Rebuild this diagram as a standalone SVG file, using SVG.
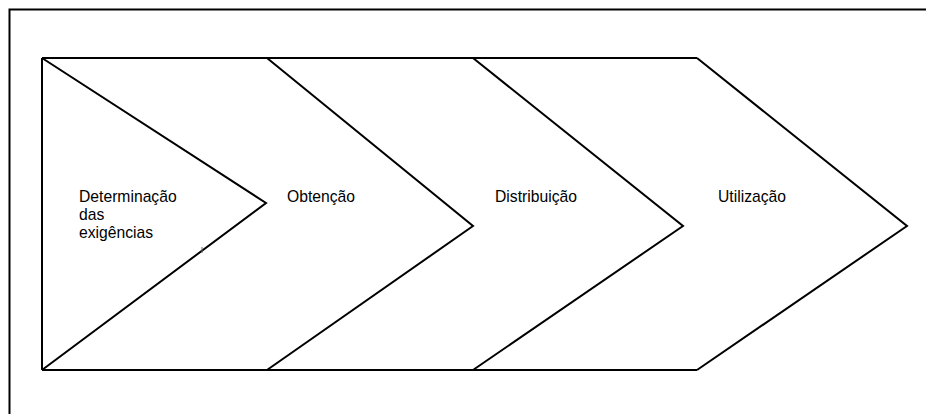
<svg xmlns="http://www.w3.org/2000/svg" width="926" height="414" viewBox="0 0 926 414">
<style>
.ln{fill:none;stroke:#000;stroke-width:2;stroke-linejoin:miter}
.t{font-family:"Liberation Sans",Arial,sans-serif;font-size:15.7px;fill:#000}
</style>
<defs>
<clipPath id="clip1"><rect x="60" y="150" width="200" height="91"/></clipPath>
</defs>
<rect width="926" height="414" fill="#fff"/>
<rect id="frame" x="9.5" y="9.5" width="940" height="430" class="ln"/>
<g id="connectors">
<line x1="42" y1="58" x2="697" y2="58" class="ln"/>
<line x1="42" y1="370" x2="697" y2="370" class="ln"/>
<line x1="42" y1="58" x2="42" y2="370" class="ln"/>
</g>
<g id="chev1">
<polyline points="42,58 266,203 42,370" class="ln"/>
<g clip-path="url(#clip1)">
<text x="79" y="202" class="t">Determinação</text>
<text x="79" y="220" class="t">das</text>
<text x="79" y="238" class="t">exigências</text>
</g>
<line x1="202" y1="247" x2="202" y2="253" stroke="#666" stroke-width="1"/>
</g>
<g id="chev2">
<polyline points="267,58 473,226 267,370" class="ln"/>
<text x="287" y="202" class="t">Obtenção</text>
</g>
<g id="chev3">
<polyline points="473,58 683,226 473,370" class="ln"/>
<text x="495" y="202" class="t">Distribuição</text>
</g>
<g id="chev4">
<polyline points="697,58 907,226 697,370" class="ln"/>
<text x="718" y="202" class="t">Utilização</text>
</g>
</svg>
